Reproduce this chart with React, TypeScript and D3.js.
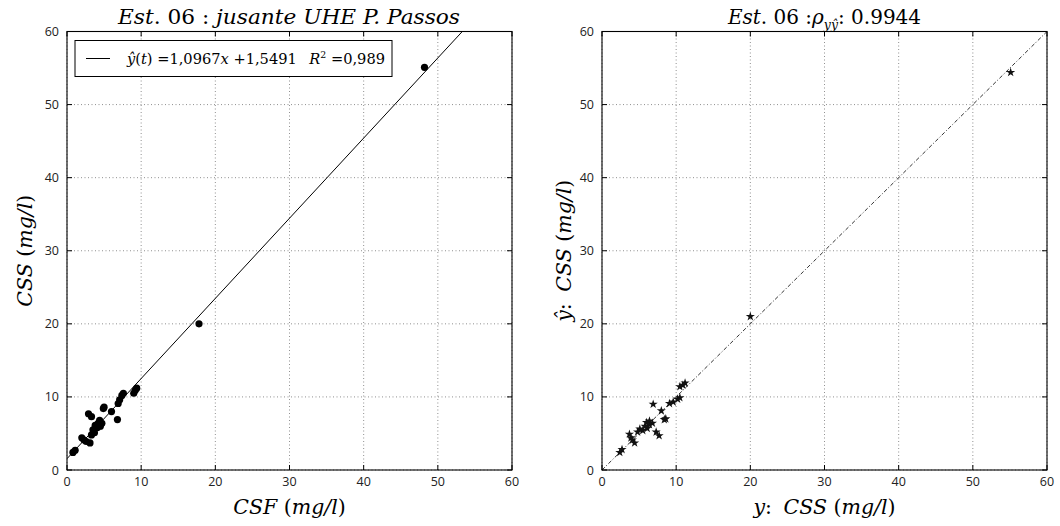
import React from "react";
import * as d3 from "d3";

// Left panel: CSF (x) vs CSS (y)
const csf = [0.8, 1.1, 2.0, 2.3, 2.6, 3.1, 3.3, 3.5, 3.8, 4.2, 4.4, 4.7, 2.9, 3.3, 4.9, 5.0, 6.0, 6.8, 6.9, 7.1, 7.4, 7.6, 9.0, 9.2, 9.4, 17.8, 48.2, 3.7, 4.1, 4.5];
const css = [2.4, 2.7, 4.4, 4.1, 3.9, 3.7, 4.8, 5.5, 6.1, 6.4, 6.8, 6.4, 7.7, 7.3, 8.4, 8.6, 8.0, 6.9, 9.1, 9.6, 10.2, 10.5, 10.5, 10.9, 11.2, 20.0, 55.1, 5.1, 5.8, 6.0];
// Right panel: observed CSS (x) vs estimated (y)
const obs = [2.4, 2.7, 4.4, 4.1, 3.9, 3.7, 4.8, 5.5, 6.1, 6.4, 6.8, 6.4, 7.7, 7.3, 8.4, 8.6, 8.0, 6.9, 9.1, 9.6, 10.2, 10.5, 10.5, 10.9, 11.2, 20.0, 55.1, 5.1, 5.8, 6.0];
const est = [2.4, 2.8, 3.7, 4.1, 4.4, 4.9, 5.2, 5.4, 5.7, 6.2, 6.4, 6.7, 4.7, 5.2, 6.9, 7.0, 8.1, 9.0, 9.1, 9.3, 9.7, 9.9, 11.4, 11.6, 11.9, 21.0, 54.4, 5.6, 6.0, 6.5];
const ticks = [0, 10, 20, 30, 40, 50, 60];
const slope = 1.0967;
const intercept = 1.5491;
const fitLine = [0, 60];
const diagLine = [0, 60];

const W = 1060, H = 526;
const top = 31.5, bottom = 470;
const leftX = [67, 512];
const rightX = [602, 1047];
const serif = "'DejaVu Serif', 'Liberation Serif', serif";
const sans = "'Open Sans', 'DejaVu Sans', sans-serif";

function Axes({ xr, children }: { xr: number[]; children: (x: any, y: any) => React.ReactNode }) {
  const x = d3.scaleLinear().domain([0, 60]).range(xr);
  const y = d3.scaleLinear().domain([0, 60]).range([bottom, top]);
  const clipId = "clip" + xr[0];
  return (
    <g>
      <defs>
        <clipPath id={clipId}>
          <rect x={xr[0]} y={top} width={xr[1] - xr[0]} height={bottom - top} />
        </clipPath>
      </defs>
      {ticks.map((t) => (
        <g key={"g" + t}>
          <line x1={x(t)} x2={x(t)} y1={top} y2={bottom} stroke="#444" strokeWidth={0.6} strokeDasharray="1,2.5" />
          <line x1={xr[0]} x2={xr[1]} y1={y(t)} y2={y(t)} stroke="#444" strokeWidth={0.6} strokeDasharray="1,2.5" />
        </g>
      ))}
      <g clipPath={`url(#${clipId})`}>{children(x, y)}</g>
      {ticks.map((t) => (
        <g key={"t" + t}>
          <line x1={x(t)} x2={x(t)} y1={bottom} y2={bottom - 5} stroke="#000" />
          <line x1={x(t)} x2={x(t)} y1={top} y2={top + 5} stroke="#000" />
          <line x1={xr[0]} x2={xr[0] + 5} y1={y(t)} y2={y(t)} stroke="#000" />
          <line x1={xr[1]} x2={xr[1] - 5} y1={y(t)} y2={y(t)} stroke="#000" />
          <text x={x(t)} y={bottom + 16} textAnchor="middle" fontFamily={sans} fontSize={12.5} fill="#222">{t}</text>
          <text x={xr[0] - 8} y={y(t) + 4.5} textAnchor="end" fontFamily={sans} fontSize={12.5} fill="#222">{t}</text>
        </g>
      ))}
      <rect x={xr[0]} y={top} width={xr[1] - xr[0]} height={bottom - top} fill="none" stroke="#000" strokeWidth={1.1} />
    </g>
  );
}

export default function App() {
  const starPath = d3.symbol().type(d3.symbolStar).size(26)() as string;
  return (
    <svg width={W} height={H} style={{ display: "block", position: "absolute", left: 0, top: 0, background: "#fff" }}>
      <rect width={W} height={H} fill="#fff" />
      <Axes xr={leftX}>
        {(x, y) => {
          const line = d3.line<number>().x((d) => x(d)).y((d) => y(slope * d + intercept));
          return (
            <g>
              <path d={line(fitLine) as string} stroke="#000" strokeWidth={1} fill="none" />
              {csf.map((v, i) => (
                <circle key={i} cx={x(v)} cy={y(css[i])} r={3.6} fill="#000" />
              ))}
            </g>
          );
        }}
      </Axes>
      <Axes xr={rightX}>
        {(x, y) => {
          const line = d3.line<number>().x((d) => x(d)).y((d) => y(d));
          return (
            <g>
              <path d={line(diagLine) as string} stroke="#000" strokeWidth={0.8} strokeDasharray="4,2,1,2" fill="none" />
              {obs.map((v, i) => (
                <path key={i} d={starPath} transform={`translate(${x(v)},${y(est[i])})`} fill="#111" />
              ))}
            </g>
          );
        }}
      </Axes>

      {/* Legend */}
      <rect x={75} y={40.5} width={317} height={36} fill="#fff" stroke="#000" strokeWidth={1} />
      <line x1={86} x2={110} y1={58.5} y2={58.5} stroke="#000" strokeWidth={1} />
      <text x={127} y={63.5} fontFamily={serif} fontSize={14} fill="#000" textLength={258} lengthAdjust="spacingAndGlyphs">
        <tspan fontStyle="italic">ŷ</tspan>(<tspan fontStyle="italic">t</tspan>) =1,0967<tspan fontStyle="italic">x</tspan> +1,5491
        <tspan dx={12} fontStyle="italic">R</tspan>
        <tspan dy={-6} fontSize={9}>2</tspan>
        <tspan dy={6}> =0,989</tspan>
      </text>

      {/* Titles */}
      <text x={118} y={24} fontFamily={serif} fontSize={20} fill="#000" textLength={342} lengthAdjust="spacingAndGlyphs">
        <tspan fontStyle="italic">Est</tspan>. 06 : <tspan fontStyle="italic">jusante UHE P. Passos</tspan>
      </text>
      <text x={824.5} y={24} textAnchor="middle" fontFamily={serif} fontSize={20} fill="#000">
        <tspan fontStyle="italic">Est</tspan>. 06 :<tspan fontStyle="italic">ρ</tspan>
        <tspan dy={5} fontSize={12.5} fontStyle="italic">yŷ</tspan>
        <tspan dy={-5}>: 0.9944</tspan>
      </text>

      {/* Axis labels */}
      <text x={289.5} y={514} textAnchor="middle" fontFamily={serif} fontSize={20.5} fill="#000">
        <tspan fontStyle="italic">CSF</tspan> (<tspan fontStyle="italic">mg/l</tspan>)
      </text>
      <text x={824.5} y={514} textAnchor="middle" fontFamily={serif} fontSize={20.5} fill="#000">
        <tspan fontStyle="italic">y</tspan>:  <tspan fontStyle="italic" dx={5}>CSS</tspan> (<tspan fontStyle="italic">mg/l</tspan>)
      </text>
      <text transform={`translate(32,${(top + bottom) / 2}) rotate(-90)`} textAnchor="middle" fontFamily={serif} fontSize={20.5} fill="#000">
        <tspan fontStyle="italic">CSS</tspan> (<tspan fontStyle="italic">mg/l</tspan>)
      </text>
      <text transform={`translate(571,${(top + bottom) / 2}) rotate(-90)`} textAnchor="middle" fontFamily={serif} fontSize={20.5} fill="#000">
        <tspan fontStyle="italic">ŷ</tspan>: <tspan fontStyle="italic" dx={5}>CSS</tspan> (<tspan fontStyle="italic">mg/l</tspan>)
      </text>
    </svg>
  );
}
